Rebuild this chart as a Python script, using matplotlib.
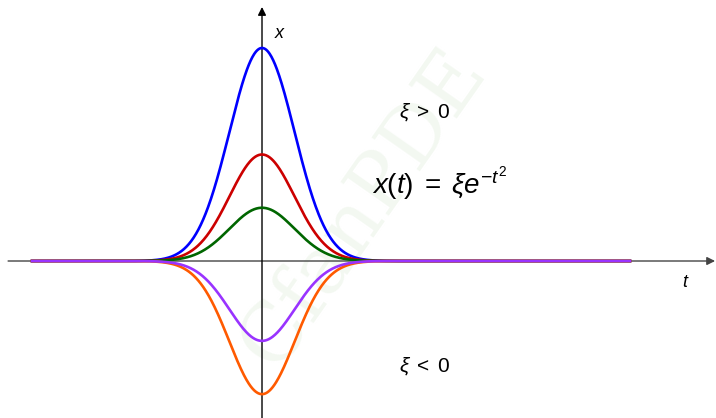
import numpy as np
import matplotlib.pyplot as plt

plt.rcParams['mathtext.fontset'] = 'custom'
plt.rcParams['mathtext.rm'] = 'Liberation Sans'
plt.rcParams['mathtext.it'] = 'Liberation Sans:italic'

# amplitudes xi of the curves x(t) = xi * exp(-t^2)
xi_values = [4.0, 2.0, 1.0, -2.5, -1.5]
colors = ['#0000ff', '#cc0000', '#006600', '#ff5a00', '#9933ff']
t = np.linspace(-5, 8, 1000)

fig = plt.figure(figsize=(7.16, 4.18), dpi=100)
ax = fig.add_axes([0, 0, 1, 1])
ax.set_xlim(-5.696, 9.87)
ax.set_ylim(-2.948, 4.901)
ax.axis('off')

# faint watermark
ax.text(2.2, 1.0, 'CfanPDE', fontsize=58, family='DejaVu Serif', color='#f3f8f1',
        rotation=55, ha='center', va='center', zorder=0)

# axes with arrows
ax.annotate('', xy=(9.85, 0), xytext=(-5.52, 0),
            arrowprops=dict(arrowstyle='-|>', color='#444444', lw=1.0,
                            mutation_scale=12, shrinkA=0, shrinkB=0), zorder=1)
ax.annotate('', xy=(0, 4.77), xytext=(0, -3.0),
            arrowprops=dict(arrowstyle='-|>', color='black', lw=1.0,
                            mutation_scale=12, shrinkA=0, shrinkB=0), zorder=1)

for xi, c in zip(xi_values, colors):
    ax.plot(t, xi * np.exp(-t ** 2), color=c, lw=1.9, zorder=2)

ax.text(0.39, 4.28, r'$x$', fontsize=13, ha='center', va='center')
ax.text(9.22, -0.39, r'$t$', fontsize=13, ha='center', va='center')
ax.text(3.54, 2.80, r'$\xi\;>\;0$', fontsize=15, ha='center', va='center')
ax.text(3.87, 1.46, r'$x(t)\;=\;\xi e^{-t^2}$', fontsize=20, ha='center', va='center')
ax.text(3.54, -1.97, r'$\xi\;<\;0$', fontsize=15, ha='center', va='center')

fig.savefig('out.png', dpi=100)
